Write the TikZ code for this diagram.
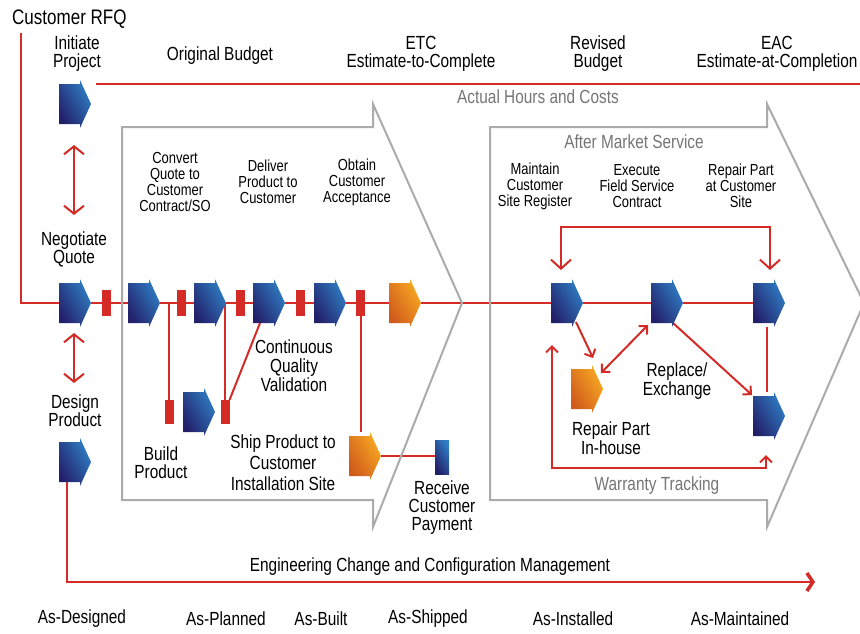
\documentclass[tikz,border=0pt]{standalone}
\usepackage{fontspec}
\setmainfont[FakeStretch=0.81]{Liberation Sans}
\usetikzlibrary{arrows.meta,calc,backgrounds}
\definecolor{rd}{HTML}{D42B27}
\definecolor{gy}{HTML}{ABABAB}
\definecolor{tgy}{HTML}{757575}
\definecolor{nv}{HTML}{23206A}
\definecolor{bl}{HTML}{2F7EC4}
\definecolor{od}{HTML}{D05A1C}
\definecolor{ol}{HTML}{F8AA22}
\newcommand\chevshape[2]{%
  \shade[#2] ($(#1.west)+(0,-20)$) -- ($(#1.west)+(21,-20)$) -- ($(#1.west)+(21,-24)$) -- (#1.east) -- ($(#1.west)+(21,24)$) -- ($(#1.west)+(21,20)$) -- ($(#1.west)+(0,20)$) -- cycle;}
\tikzset{
  bigv/.tip={Straight Barb[length=8pt,width=20pt]},
  midv/.tip={Straight Barb[length=9pt,width=20pt]},
  smv/.tip={Straight Barb[length=6pt,width=12pt]},
  chev/.tip={Straight Barb[length=6pt,width=18pt,line width=3.5pt]}
}
\begin{document}
\begin{tikzpicture}[x=1pt,y=-1pt,
  box/.style={minimum width=32pt, minimum height=48pt, inner sep=0pt, outer sep=0pt, anchor=west},
  navy/.style={left color=nv, right color=bl, shading angle=120},
  orng/.style={left color=od, right color=ol, shading angle=120},
  rrect/.style={fill=rd, minimum width=9pt, minimum height=26pt, inner sep=0pt, outer sep=0pt},
  vrect/.style={fill=rd, minimum width=9pt, minimum height=24pt, inner sep=0pt, outer sep=0pt},
  redln/.style={draw=rd, line width=2pt},
  gyln/.style={draw=gy, line width=2pt},
  lab/.style={font=\fontsize{19}{18}\selectfont, align=center, inner sep=0pt},
  slab/.style={font=\fontsize{16}{16}\selectfont, align=center, inner sep=0pt},
  glab/.style={lab, text=tgy}
]
\useasboundingbox (0,0) rectangle (860,633);
\clip (0,0) rectangle (860,633);

% big outline arrows
\draw[gyln] (122,127) -- (373,127) -- (373,104) -- (462,303) -- (373,527) -- (373,500) -- (122,500) -- cycle;
\draw[gyln] (490,127) -- (767,127) -- (767,104) -- (864,303) -- (767,527) -- (767,500) -- (490,500) -- cycle;

% process nodes
\node[box] (IP) at (59,104) {};
\node[box] (NQ) at (59,303) {};
\node[box] (DP) at (59,462) {};
\node[box] (B) at (128,303) {};
\node[box] (C) at (194,303) {};
\node[box] (D) at (253,303) {};
\node[box] (E) at (314,303) {};
\node[box] (F) at (389,303) {};
\node[box] (BP) at (183,412) {};
\node[box] (SP) at (349,456) {};
\node[box] (G) at (551,303) {};
\node[box] (H) at (651,303) {};
\node[box] (I) at (753,303) {};
\node[box] (J) at (753,416) {};
\node[box] (K) at (571,389) {};
\node[inner sep=0pt, outer sep=0pt, minimum width=14pt, minimum height=34pt, left color=nv, right color=bl, shading angle=120] (RCP) at (442,457) {};

% red gates
\node[rrect] (r1) at (106.5,303) {};
\node[rrect] (r2) at (181.5,303) {};
\node[rrect] (r3) at (240.5,303) {};
\node[rrect] (r4) at (300.5,303) {};
\node[rrect] (r5) at (360.5,303) {};
\node[vrect] (r6) at (169,412) {};
\node[vrect] (r7) at (225,412) {};

% connectors
\coordinate (rfq) at (21,33);
\coordinate (bgL) at (96,84);
\coordinate (bgR) at (860,84);
\coordinate (eng) at (815,582);
\begin{scope}[on background layer]
\draw[redln] (rfq) |- (NQ.west);
\draw[redln] (NQ) -- (r1) -- (B) -- (r2) -- (C) -- (r3) -- (D) -- (r4) -- (E) -- (r5) -- (F) -- (G) -- (H) -- (I);
\draw[redln] (bgL) -- (bgR);
\draw[redln] (r6.north) -- (r6.north |- B.center);
\draw[redln] (r7.north) -- (r7.north |- C.center);
\draw[redln] ($(D.south west)+(7,-4)$) -- (r7.north east);
\draw[redln] (r5.south) -- (r5.south |- SP.north);
\draw[redln] (SP.east) -- (SP.east -| RCP.west);
\draw[redln] ($(I.south)+(-2,0)$) -- ($(J.north)+(-2,0)$);
\end{scope}
\draw[redln, {bigv}-{bigv}] ($(IP.south)+(-1,17)$) -- ($(IP.south)+(-1,87)$);
\draw[redln, {bigv}-{bigv}] ($(NQ.south)+(-1,6)$) -- ($(NQ.south)+(-1,56)$);
\draw[redln, -{chev}] ($(DP.south west)+(8,-4)$) |- (eng);
\draw[redln, {midv}-{midv}] ($(G.north)+(-6,-9)$) -- ++(0,-43) -| ($(I.north)+(1,-9)$);
\draw[redln, {smv}-{smv}] ($(G.south)+(-15,18)$) -- ++(0,123) -| ($(J.south)+(-3,15)$);
\draw[redln, -{smv}] ($(G.south)+(9,-5)$) -- ($(K.north)+(6,-7)$);
\draw[redln, {smv}-{smv}] ($(K.north east)+(-2,8)$) -- ($(H.south west)+(-3,-2)$);
\draw[redln, -{smv}] ($(H.south)+(6,-4)$) -- ($(J.north west)+(-1,3)$);

% shapes
\chevshape{IP}{navy}
\chevshape{NQ}{navy}
\chevshape{DP}{navy}
\chevshape{B}{navy}
\chevshape{C}{navy}
\chevshape{D}{navy}
\chevshape{E}{navy}
\chevshape{F}{orng}
\chevshape{BP}{navy}
\chevshape{SP}{orng}
\chevshape{G}{navy}
\chevshape{H}{navy}
\chevshape{I}{navy}
\chevshape{J}{navy}
\chevshape{K}{orng}

% labels
\node[lab, font=\fontsize{21}{20}\selectfont, anchor=west] (tRFQ) at (12,19) {Customer RFQ};
\node[lab] (tIP) at (77,54) {Initiate\\Project};
\node[lab] (tOB) at (220,56) {Original Budget};
\node[lab] (tETC) at (421,54) {ETC\\Estimate-to-Complete};
\node[lab] (tRB) at (598,54) {Revised\\Budget};
\node[lab] (tEAC) at (777,54) {EAC\\Estimate-at-Completion};
\node[glab] (tAH) at (538,97) {Actual Hours and Costs};
\node[lab] (tNQ) at (74,249) {Negotiate\\Quote};
\node[lab] (tDP) at (75,411) {Design\\Product};
\node[slab] (tCQ) at (175,182) {Convert\\Quote to\\Customer\\Contract/SO};
\node[slab] (tDel) at (268,182) {Deliver\\Product to\\Customer};
\node[slab] (tObt) at (357,182) {Obtain\\Customer\\Acceptance};
\node[glab] (tAMS) at (634,142) {After Market Service};
\node[slab] (tMain) at (535,186) {Maintain\\Customer\\Site Register};
\node[slab] (tExe) at (637,186) {Execute\\Field Service\\Contract};
\node[slab] (tRPS) at (741,186) {Repair Part\\at Customer\\Site};
\node[lab, font=\fontsize{19}{19}\selectfont] (tCQV) at (294,366) {Continuous\\Quality\\Validation};
\node[lab] (tBP) at (161,463) {Build\\Product};
\node[lab, font=\fontsize{19}{21}\selectfont] (tSP) at (283,463) {Ship Product to\\Customer\\Installation Site};
\node[lab] (tRCP) at (442,508) {Receive\\Customer\\Payment};
\node[lab, font=\fontsize{19}{19}\selectfont] (tRE) at (677,381) {Replace/\\Exchange};
\node[lab, font=\fontsize{19}{19}\selectfont] (tRPI) at (611,438) {Repair Part\\In-house};
\node[glab] (tWT) at (657,486) {Warranty Tracking};
\node[lab] (tECM) at (430,567) {Engineering Change and Configuration Management};
\node[lab] (tAD) at (82,619) {As-Designed};
\node[lab] (tAP) at (226,619) {As-Planned};
\node[lab] (tAB) at (321,619) {As-Built};
\node[lab] (tAS) at (428,619) {As-Shipped};
\node[lab] (tAI) at (573,619) {As-Installed};
\node[lab] (tAM) at (740,619) {As-Maintained};
\end{tikzpicture}
\end{document}
